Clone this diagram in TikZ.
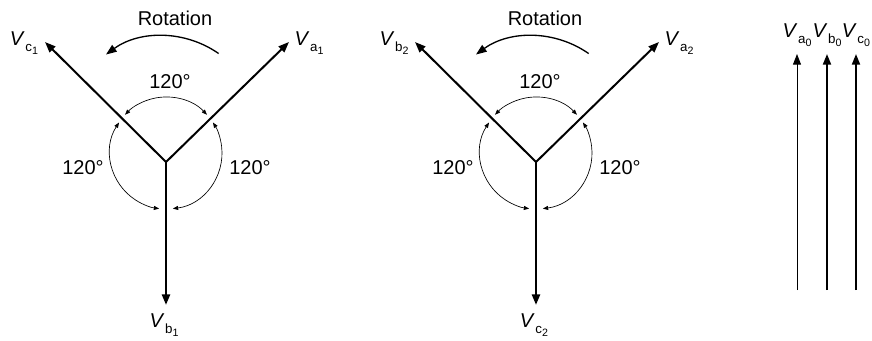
\documentclass[tikz,border=0pt]{standalone}
\usepackage{fontspec}
\setmainfont{Liberation Sans}
\usetikzlibrary{arrows.meta}
\tikzset{
	phasor/.style={line width=1.5pt, -{Triangle[length=8pt,width=6pt]}}
}
\tikzset{
	anglearc/.style={line width=0.5pt, {Triangle[length=4pt,width=3pt]}-{Triangle[length=4pt,width=3pt]}}
}
\tikzset{
	rotarrow/.style={line width=1pt, -{Triangle[length=8pt,width=6pt]}}
}
\tikzset{
	labeltext/.style={font=\fontsize{15}{17}\selectfont}
}
\newcommand{\vlab}[2]{\textit{V}\kern0.5pt\raisebox{-0.6ex}{\fontsize{10}{10}\selectfont #1\raisebox{-0.45ex}{\fontsize{8}{8}\selectfont #2}}}

\begin{document}
\begin{tikzpicture}[x=0.75pt, y=0.75pt]
      \useasboundingbox (0,0) rectangle (872,340);
      % positive sequence
      \begin{scope}
        \coordinate (o1) at (166,178);
        \coordinate (c1) at (166,187);
        \coordinate (ra1) at (163,207);
        \node[labeltext] (va1) at (309,297) {\vlab{a}{1}};
        \node[labeltext] (vc1) at (24,297) {\vlab{c}{1}};
        \node[labeltext] (vb1) at (164,15) {\vlab{b}{1}};
        \coordinate (ta1) at (289,298);
        \coordinate (tc1) at (45,298);
        \coordinate (tb1) at (166,35);
        \draw[phasor] (o1) -- (ta1);
        \draw[phasor] (o1) -- (tc1);
        \draw[phasor, line width=1.9pt] (o1) -- (tb1);
        \draw[anglearc] ([shift={(43:56)}]c1) arc (43:137:56);
        \draw[anglearc] ([shift={(147:56)}]c1) arc (147:263:56);
        \draw[anglearc] ([shift={(277:56)}]c1) arc (277:393:56);
        \node[labeltext] (top1) at (170,258) {120°};
        \node[labeltext] (left1) at (83,172) {120°};
        \node[labeltext] (right1) at (250,172) {120°};
        % rotation
        \draw[rotarrow] ([shift={(55:97)}]ra1) arc (55:126:97);
        \node[labeltext] (rot1) at (175,322) {Rotation};
      \end{scope}
      % negative sequence
      \begin{scope}[xshift=277.5pt]
        \coordinate (o2) at (166,178);
        \coordinate (c2) at (166,187);
        \coordinate (ra2) at (163,207);
        \node[labeltext] (va2) at (309,297) {\vlab{a}{2}};
        \node[labeltext] (vb2) at (24,297) {\vlab{b}{2}};
        \node[labeltext] (vc2) at (164,15) {\vlab{c}{2}};
        \coordinate (ta2) at (289,298);
        \coordinate (tb2) at (45,298);
        \coordinate (tc2) at (166,35);
        \draw[phasor] (o2) -- (ta2);
        \draw[phasor] (o2) -- (tb2);
        \draw[phasor, line width=1.9pt] (o2) -- (tc2);
        \draw[anglearc] ([shift={(43:56)}]c2) arc (43:137:56);
        \draw[anglearc] ([shift={(147:56)}]c2) arc (147:263:56);
        \draw[anglearc] ([shift={(277:56)}]c2) arc (277:393:56);
        \node[labeltext] (top2) at (170,258) {120°};
        \node[labeltext] (left2) at (83,172) {120°};
        \node[labeltext] (right2) at (250,172) {120°};
        % rotation
        \draw[rotarrow] ([shift={(55:97)}]ra2) arc (55:126:97);
        \node[labeltext] (rot2) at (175,322) {Rotation};
      \end{scope}
      % zero sequence
      \coordinate (ba0) at (797,50);
      \coordinate (bb0) at (827,50);
      \coordinate (bc0) at (856,50);
      \coordinate (ta0) at (797,286);
      \coordinate (tb0) at (827,286);
      \coordinate (tc0) at (856,286);
      \draw[phasor, line width=0.75pt] (ba0) -- (ta0);
      \draw[phasor] (bb0) -- (tb0);
      \draw[phasor] (bc0) -- (tc0);
      \node[labeltext, above=2pt] (va0) at (ta0) {\vlab{a}{0}};
      \node[labeltext, above=2pt] (vb0) at (tb0) {\vlab{b}{0}};
      \node[labeltext, above=2pt] (vc0) at (tc0) {\vlab{c}{0}};
    \end{tikzpicture}
\end{document}
